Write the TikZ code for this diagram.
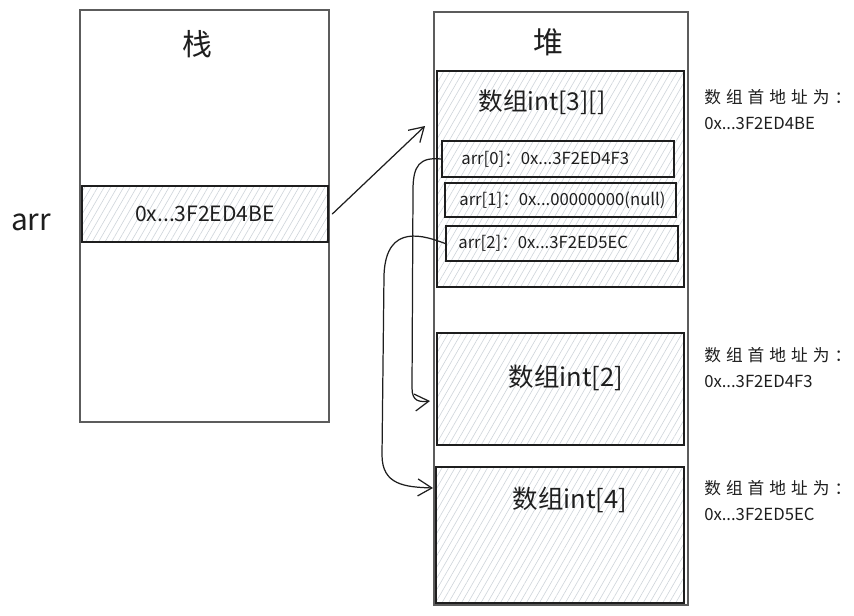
\documentclass[tikz,border=0pt]{standalone}
\usepackage{fontspec}
\setmainfont{Noto Sans CJK SC}
\usepackage{tikz}
\usetikzlibrary{positioning, arrows.meta, patterns.meta, calc}
\definecolor{ink}{HTML}{1E1E1E}
\definecolor{hatch}{HTML}{CED4DA}
\definecolor{frame}{HTML}{5C5C5C}
\tikzset{
  mem/.style      = {rectangle, draw=ink, line width=0.7pt, inner sep=0pt},
  region/.style   = {mem, line width=0.9pt, draw=frame},
  block/.style    = {mem, line width=0.9pt,
                     pattern={Lines[angle=60, distance=3.2pt, line width=0.35pt]},
                     pattern color=hatch},
  slot/.style     = {mem, line width=1pt},
  title/.style    = {font=\fontsize{17}{19}\selectfont, text=ink},
  arrtitle/.style = {font=\fontsize{14}{16}\selectfont, text=ink},
  val/.style      = {font=\fontsize{12}{14}\selectfont, text=ink},
  entry/.style    = {font=\fontsize{9.5}{11}\selectfont, text=ink, anchor=west, inner sep=0pt},
  note/.style     = {font=\fontsize{9.5}{11}\selectfont, text=ink, anchor=west, inner sep=0pt},
  notecjk/.style  = {note, font=\fontsize{9.5}{11}\selectfont\addfontfeatures{LetterSpace=30}},
  arr/.style      = {-{Straight Barb[length=2.8mm, width=3.4mm]}, line width=0.7pt, draw=ink,
                     line cap=round, line join=round},
}

\begin{document}
\begin{tikzpicture}[x=0.02cm, y=-0.02cm]
  \useasboundingbox (0,0) rectangle (854,615);

  % stack
  \node[region, minimum width=4.98cm, minimum height=8.24cm] (stack) at (204.5,216) {};
  \node[title] (stacktitle) at (197,44) {栈};
  \node[block, minimum width=4.92cm, minimum height=1.12cm] (cell) at (205,214) {};
  \node[val] (cellval) at (cell.center) {0x...3F2ED4BE};
  \node[title] (var) at (31,222) {arr};

  % heap
  \node[region, minimum width=5.08cm, minimum height=11.86cm] (heap) at (561,308.5) {};
  \node[title] (heaptitle) at (548,42) {堆};

  \node[block, minimum width=4.94cm, minimum height=4.32cm] (a3) at (560.5,179) {};
  \node[arrtitle] (a3title) at (542,102) {数组int[3][]};

  \node[slot, minimum width=4.64cm, minimum height=0.72cm] (e0) at (558,159) {};
  \node[slot, minimum width=4.62cm, minimum height=0.68cm] (e1) at (560.5,200) {};
  \node[slot, minimum width=4.64cm, minimum height=0.70cm] (e2) at (562,243.5) {};
  \node[entry] at (461,159) {arr[0]：0x...3F2ED4F3};
  \node[entry] at (459,200) {arr[1]：0x...00000000(null)};
  \node[entry] at (458,243) {arr[2]：0x...3F2ED5EC};

  \node[block, minimum width=4.94cm, minimum height=2.24cm] (a2) at (560.5,389) {};
  \node[arrtitle, font=\fontsize{14.5}{16}\selectfont] (a2title) at (566,378) {数组int[2]};

  \node[block, minimum width=4.96cm, minimum height=2.72cm] (a4) at (560,535) {};
  \node[arrtitle, font=\fontsize{14.5}{16}\selectfont] (a4title) at (570,500) {数组int[4]};

  % addresses
  \node[notecjk] (n3a) at (704,97)  {数组首地址为：};
  \node[note]    (n3b) at (704,123) {0x...3F2ED4BE};
  \node[notecjk] (n2a) at (704,355) {数组首地址为：};
  \node[note]    (n2b) at (704,381) {0x...3F2ED4F3};
  \node[notecjk] (n4a) at (704,488) {数组首地址为：};
  \node[note]    (n4b) at (704,514) {0x...3F2ED5EC};

  % references
  \coordinate (to3) at (425,126);
  \coordinate (to2) at (430,401);
  \coordinate (to4) at (433,488);
  \draw[arr] (cell.east) ++(4,0) -- (to3);
  \draw[arr] (e0.west) .. controls (420,157) and (413,165) .. (413,190)
             -- (412,388) .. controls (412,402) and (420,402) .. (to2);
  \draw[arr] (e2.west) .. controls (425,236) and (386,222) .. (384,275)
             -- (382,455) .. controls (382,485) and (405,487) .. (to4);

\end{tikzpicture}
\end{document}
